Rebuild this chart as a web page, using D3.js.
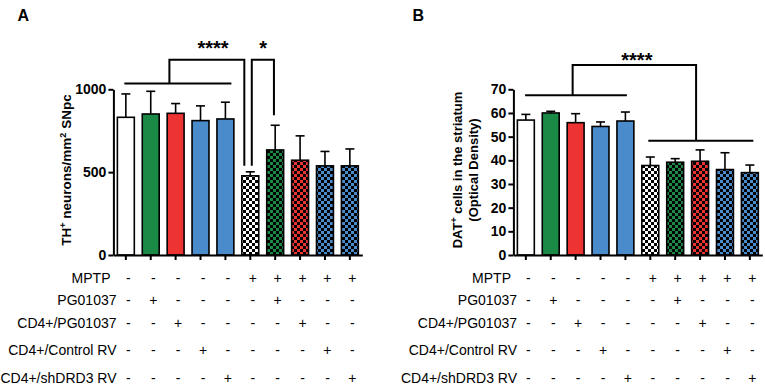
<!DOCTYPE html>
<html><head><meta charset="utf-8">
<script src="https://cdn.jsdelivr.net/npm/d3@7"></script>
<style>body{margin:0;background:#fff}svg{display:block}text{font-family:"Liberation Sans",Arial,sans-serif;fill:#000}</style>
</head><body>
<script>
// ---------- data ----------
const categories = ["Control","PG01037","CD4+/PG01037","CD4+/Control RV","CD4+/shDRD3 RV",
  "MPTP","MPTP+PG01037","MPTP+CD4+/PG01037","MPTP+CD4+/Control RV","MPTP+CD4+/shDRD3 RV"];
const thMean = [831, 851, 855, 811, 821, 478, 634, 572, 538, 538];
const thSem  = [141, 137, 59, 89, 101, 24, 149, 147, 87, 102];
const datMean = [57.0, 60.0, 55.9, 54.3, 56.6, 37.8, 39.2, 39.6, 36.1, 34.8];
const datSem  = [2.4, 0.7, 3.8, 1.9, 3.8, 3.6, 1.5, 4.8, 7.1, 3.2];
const barColors = ["#ffffff","#1b8a47","#ee3333","#4a8bcb","#4a8bcb","#ffffff","#1b8a47","#ee3333","#4a8bcb","#4a8bcb"];
const checkered = [false,false,false,false,false,true,true,true,true,true];
const treatments = ["MPTP","PG01037","CD4+/PG01037","CD4+/Control RV","CD4+/shDRD3 RV"];
const signs = [
  ["-","-","-","-","-","+","+","+","+","+"],
  ["-","+","-","-","-","-","+","-","-","-"],
  ["-","-","+","-","-","-","-","+","-","-"],
  ["-","-","-","+","-","-","-","-","+","-"],
  ["-","-","-","-","+","-","-","-","-","+"]
];
const thTicks = [0, 500, 1000];
const datTicks = [0, 10, 20, 30, 40, 50, 60, 70];

// ---------- layout ----------
const W = 765, H = 386;
const svg = d3.select("body").append("svg").attr("width", W).attr("height", H);
const defs = svg.append("defs");
const uniq = [...new Set(barColors)];
uniq.forEach((c, i) => {
  const p = defs.append("pattern").attr("id", "chk" + i).attr("patternUnits", "userSpaceOnUse")
    .attr("width", 6).attr("height", 6);
  p.append("rect").attr("width", 6).attr("height", 6).attr("fill", "#000");
  p.append("rect").attr("width", 3).attr("height", 3).attr("fill", c);
  p.append("rect").attr("x", 3).attr("y", 3).attr("width", 3).attr("height", 3).attr("fill", c);
});
const fillFor = i => checkered[i] ? `url(#chk${uniq.indexOf(barColors[i])})` : barColors[i];

const rowY = [277.5, 299.5, 323, 350, 377.5];

function panel(cfg) {
  const g = svg.append("g");
  const x = d3.scaleBand().domain(categories).range(cfg.xr).paddingInner(0.32).paddingOuter(0.16);
  const y = d3.scaleLinear().domain([0, cfg.ymax]).range([255, 89.3]);
  const bw = x.bandwidth();
  const cx = i => x(categories[0]) + bw / 2 + i * x.step();

  // bars
  g.selectAll("rect.bar").data(cfg.mean).join("rect")
    .attr("x", (d, i) => x(categories[i])).attr("width", bw)
    .attr("y", d => y(d)).attr("height", d => y(0) - y(d))
    .attr("fill", (d, i) => fillFor(i)).attr("stroke", "#000").attr("stroke-width", 1.6);
  // error bars
  const eb = g.selectAll("g.eb").data(cfg.mean).join("g");
  eb.append("line").attr("x1", (d, i) => cx(i)).attr("x2", (d, i) => cx(i))
    .attr("y1", d => y(d)).attr("y2", (d, i) => y(d + cfg.sem[i]))
    .attr("stroke", "#000").attr("stroke-width", 1.6);
  eb.append("line").attr("x1", (d, i) => cx(i) - 4.5).attr("x2", (d, i) => cx(i) + 4.5)
    .attr("y1", (d, i) => y(d + cfg.sem[i])).attr("y2", (d, i) => y(d + cfg.sem[i]))
    .attr("stroke", "#000").attr("stroke-width", 1.6);

  // axes
  const ya = g.append("g").attr("transform", `translate(${cfg.xr[0]},0)`)
    .call(d3.axisLeft(y).tickValues(cfg.ticks).tickFormat(d3.format("d")).tickSize(5).tickSizeOuter(0).tickPadding(2));
  ya.selectAll("text").style("font-size", "14px").style("font-weight", "bold")
    .style("font-family", '"Liberation Sans",Arial,sans-serif');
  ya.selectAll("path,line").attr("stroke", "#000").attr("stroke-width", 2);
  const xa = g.append("g").attr("transform", `translate(0,255)`)
    .call(d3.axisBottom(x).tickSize(5).tickSizeOuter(0).tickFormat(""));
  xa.selectAll("path,line").attr("stroke", "#000").attr("stroke-width", 2);

  // y label
  const lab = g.append("text").attr("text-anchor", "middle").style("font-weight", "bold")
    .style("font-size", cfg.labelSize + "px");
  cfg.label(lab);

  // panel letter
  g.append("text").attr("x", cfg.letterX).attr("y", 20.5).text(cfg.letter)
    .style("font-weight", "bold").style("font-size", "16px");

  // brackets
  const line = d3.line().x(d => cx(d[0])).y(d => y(d[1]));
  cfg.brackets.forEach(b => {
    g.append("path").attr("d", line(b)).attr("fill", "none").attr("stroke", "#000").attr("stroke-width", 2);
  });
  cfg.stars.forEach(s => {
    g.append("text").attr("x", cx(s[0])).attr("y", cfg.starBase).attr("text-anchor", "middle")
      .style("font-weight", "bold").style("font-size", "20px").text(s[1]);
  });

  // table
  treatments.forEach((t, r) => {
    g.append("text").attr("x", cfg.rowLabelX - (r === 0 ? 6 : 0)).attr("y", rowY[r] + 5)
      .attr("text-anchor", "end").style("font-size", "14px").text(t);
    signs[r].forEach((s, c) => {
      g.append("text").attr("x", cx(c) + 2.5).attr("y", rowY[r] + 5).attr("text-anchor", "middle")
        .style("font-size", "14px").text(s);
    });
  });
}

panel({
  xr: [113.4, 362.3], ymax: 1000, ticks: thTicks, mean: thMean, sem: thSem,
  letter: "A", letterX: 17.5, labelSize: 13.5, rowLabelX: 116.5, starBase: 55,
  label: t => {
    t.attr("transform", "translate(71,170) rotate(-90)");
    t.append("tspan").text("TH");
    t.append("tspan").attr("dy", -5).style("font-size", "9px").text("+");
    t.append("tspan").attr("dy", 5).text(" neurons/mm");
    t.append("tspan").attr("dy", -5).style("font-size", "9px").text("2");
    t.append("tspan").attr("dy", 5).text(" SNpc");
  },
  brackets: [
    [[-0.06, 1035], [4.24, 1035]],
    [[1.75, 1035], [1.75, 1179], [4.76, 1179], [4.76, 538]],
    [[5.06, 538], [5.06, 1179], [5.95, 1179], [5.95, 843]]
  ],
  stars: [[3.5, "****"], [5.52, "*"]]
});

panel({
  xr: [513.4, 762.3], ymax: 70, ticks: datTicks, mean: datMean, sem: datSem,
  letter: "B", letterX: 412.5, labelSize: 13, rowLabelX: 517, starBase: 67,
  label: t => {
    t.attr("transform", "translate(462,170) rotate(-90)");
    t.append("tspan").text("DAT");
    t.append("tspan").attr("dy", -5).style("font-size", "9px").text("+");
    t.append("tspan").attr("dy", 5).text(" cells in the striatum");
    t.append("tspan").attr("x", 0).attr("dy", 16).text("(Optical Density)");
  },
  brackets: [
    [[-0.03, 67.5], [4.06, 67.5]],
    [[1.88, 67.5], [1.88, 80.3], [6.84, 80.3], [6.84, 48.3]],
    [[4.92, 48.3], [9.14, 48.3]]
  ],
  stars: [[4.46, "****"]]
});
</script>
</body></html>
